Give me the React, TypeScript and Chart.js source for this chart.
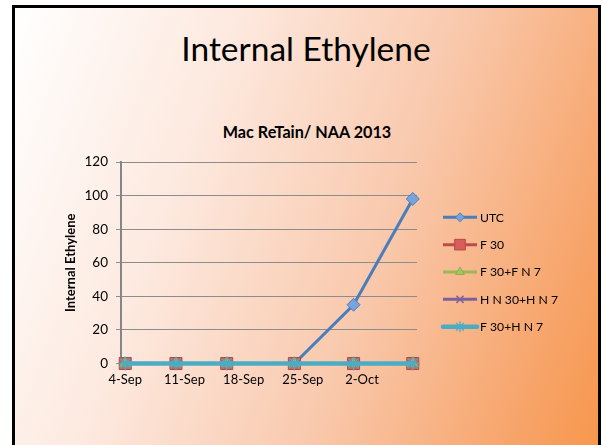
import React, { useEffect, useRef } from "react";
import { Chart, registerables } from "chart.js";
import { drawPoint } from "chart.js/helpers";

Chart.register(...registerables);

// ---- data ----
const sampleDates = ["2013-09-04", "2013-09-10", "2013-09-16", "2013-09-24", "2013-10-01", "2013-10-08"];
const seriesNames = ["UTC", "F 30", "F 30+F N 7", "H N 30+H N 7", "F 30+H N 7"];
const utcValues = [0, 0, 0, 0, 35, 98];
const f30Values = [0, 0, 0, 0, 0, 0];
const f30fn7Values = [0, 0, 0, 0, 0, 0];
const hn30hn7Values = [0, 0, 0, 0, 0, 0];
const f30hn7Values = [0, 0, 0, 0, 0, 0];
const xTickDates = ["2013-09-04", "2013-09-11", "2013-09-18", "2013-09-25", "2013-10-02"];
const xTickLabels = ["4-Sep", "11-Sep", "18-Sep", "25-Sep", "2-Oct"];
const yTickValues = [0, 20, 40, 60, 80, 100, 120];

const slideTitle = "Internal Ethylene";
const chartTitle = "Mac ReTain/ NAA 2013";
const yAxisTitle = "Internal Ethylene";

const DAY = 86400000;
const base = Date.parse(sampleDates[0]);
const toDay = (s: string) => Math.round((Date.parse(s) - base) / DAY);
const sampleDays = sampleDates.map(toDay);
const xTickDays = xTickDates.map(toDay);

const FONT = "Lato, 'Open Sans', sans-serif";

const legendPlugin = {
  id: "sideLegend",
  afterDraw(chart: any) {
    const ctx = chart.ctx as CanvasRenderingContext2D;
    const { right, top } = chart.chartArea;
    chart.data.datasets.forEach((ds: any, i: number) => {
      const y = top + 55.3 + i * 27.35;
      const x0 = right + 26;
      const x1 = x0 + 34;
      ctx.save();
      ctx.strokeStyle = ds.borderColor;
      ctx.lineWidth = ds.borderWidth;
      ctx.lineCap = ds.borderWidth > 4 ? "round" : "butt";
      ctx.beginPath();
      ctx.moveTo(x0, y);
      ctx.lineTo(x1, y);
      ctx.stroke();
      ctx.fillStyle = ds.pointBackgroundColor;
      ctx.strokeStyle = ds.pointBorderColor;
      ctx.lineWidth = ds.pointBorderWidth;
      drawPoint(
        ctx,
        { pointStyle: ds.pointStyle, radius: ds.legendRadius, rotation: 0, borderWidth: ds.pointBorderWidth } as any,
        (x0 + x1) / 2,
        y
      );
      ctx.fillStyle = "#000";
      ctx.font = `12.2px ${FONT}`;
      ctx.textBaseline = "middle";
      ctx.textAlign = "left";
      ctx.fillText(ds.label, x1 + 3, y + 0.5);
      ctx.restore();
    });
  },
};

function pts(values: number[]) {
  return values.map((v, i) => ({ x: sampleDays[i], y: v }));
}

export default function App() {
  const ref = useRef<HTMLCanvasElement>(null);
  useEffect(() => {
    if (!ref.current) return;
    const mk = (
      label: string,
      values: number[],
      color: string,
      fill: string,
      border: string,
      style: string,
      radius: number,
      legendRadius: number,
      lw: number,
      pbw: number,
      order: number
    ) => ({
      label,
      data: pts(values),
      borderColor: color,
      backgroundColor: color,
      borderWidth: lw,
      pointStyle: style,
      pointRadius: radius,
      legendRadius,
      pointBackgroundColor: fill,
      pointBorderColor: border,
      pointBorderWidth: pbw,
      tension: 0,
      clip: false,
      order,
    });
    const chart = new Chart(ref.current, {
      type: "line",
      data: {
        datasets: [
          mk(seriesNames[0], utcValues, "#4a7ebb", "#7aa3dc", "#4a7ebb", "rectRot", 6.5, 4.5, 3, 1, 4),
          mk(seriesNames[1], f30Values, "#be4b48", "#d65f5b", "#b84744", "rect", 8.5, 7.5, 3, 1, 3),
          mk(seriesNames[2], f30fn7Values, "#98b954", "#a6c760", "#8fae4f", "triangle", 6.5, 5, 3, 1, 2),
          mk(seriesNames[3], hn30hn7Values, "#7d60a0", "#7d60a0", "#7d60a0", "crossRot", 6.5, 5, 3, 1.5, 1),
          mk(seriesNames[4], f30hn7Values, "#4bacc6", "#4bacc6", "#4bacc6", "star", 7, 5, 4.5, 1.3, 0),
        ] as any,
      },
      options: {
        animation: false,
        responsive: false,
        events: [],
        layout: { padding: { left: 61, top: 162, right: 185, bottom: 51.5 } },
        plugins: {
          legend: { display: false },
          title: { display: false },
          tooltip: { enabled: false },
        },
        scales: {
          x: {
            type: "linear",
            min: sampleDays[0] - 0.5,
            max: sampleDays[sampleDays.length - 1] + 0.5,
            afterBuildTicks: (scale: any) => {
              scale.ticks = xTickDays.map((v) => ({ value: v }));
            },
            afterFit: (scale: any) => {
              scale.height = 30;
            },
            ticks: {
              autoSkip: false,
              maxRotation: 0,
              padding: 9,
              color: "#000",
              font: { family: FONT, size: 13 },
              callback: (v: any) => {
                const idx = xTickDays.indexOf(Number(v));
                return idx >= 0 ? xTickLabels[idx] : "";
              },
            },
            grid: { display: false, drawTicks: false },
            border: { display: true, color: "#868686", width: 1.5 },
          },
          y: {
            min: yTickValues[0],
            max: yTickValues[yTickValues.length - 1],
            afterBuildTicks: (scale: any) => {
              scale.ticks = yTickValues.map((v) => ({ value: v }));
            },
            afterFit: (scale: any) => {
              scale.width = 60;
            },
            ticks: {
              padding: 8,
              color: "#000",
              font: { family: FONT, size: 13.5 },
            },
            grid: { color: "#8c8c8c", lineWidth: 1, tickLength: 5, drawTicks: true },
            border: { display: true, color: "#868686", width: 2 },
            title: {
              display: true,
              text: yAxisTitle,
              color: "#000",
              font: { family: FONT, size: 13, weight: "bold" },
              padding: { top: 2.5, bottom: 0 },
            },
          },
        },
      } as any,
      plugins: [legendPlugin],
    });
    return () => chart.destroy();
  }, []);

  return (
    <div style={{ position: "relative", width: 602, height: 445, overflow: "hidden", background: "#fff" }}>
      <style>{`html,body{margin:0;padding:0;overflow:hidden;}`}</style>
      <div
        style={{
          position: "absolute",
          left: 12,
          top: 5,
          width: 589,
          height: 470,
          boxSizing: "border-box",
          border: "3px solid #000",
          background: "linear-gradient(110deg, #ffffff 0%, #fde9df 30%, #f9c9ad 60%, #f7a46a 87%, #f7964a 100%)",
        }}
      />
      <div
        style={{
          position: "absolute",
          left: 0,
          width: 612,
          top: 27,
          textAlign: "center",
          fontFamily: FONT,
          fontSize: 33.5,
          lineHeight: "42px",
          color: "#000",
        }}
      >
        {slideTitle}
      </div>
      <div
        style={{
          position: "absolute",
          left: 0,
          width: 614,
          top: 122,
          textAlign: "center",
          fontFamily: FONT,
          fontSize: 16.2,
          fontWeight: "bold",
          lineHeight: "20px",
          color: "#000",
        }}
      >
        {chartTitle}
      </div>
      <canvas ref={ref} width={602} height={445} style={{ position: "absolute", left: 0, top: 0 }} />
    </div>
  );
}
